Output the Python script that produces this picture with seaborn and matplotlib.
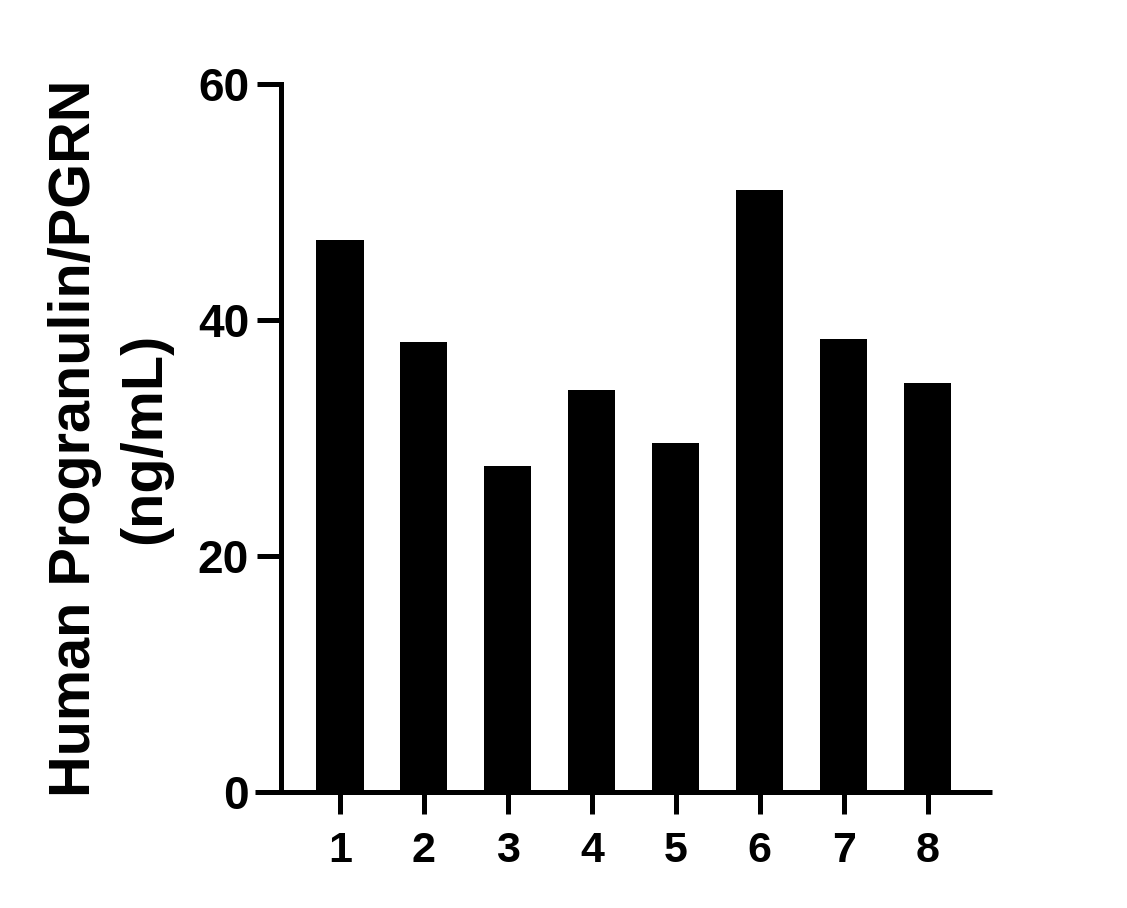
import numpy as np
import pandas as pd
import matplotlib
matplotlib.use("Agg")
import matplotlib.pyplot as plt
import seaborn as sns

# значения со скриншота
samples = ["1", "2", "3", "4", "5", "6", "7", "8"]
pgrn = [46.8, 38.1, 27.6, 34.1, 29.6, 51.0, 38.4, 34.7]
y_ticks = [0, 20, 40, 60]
y_label = "Human Progranulin/PGRN\n(ng/mL)"

sns.set_style("white")
plt.rcParams["font.family"] = ["Liberation Sans", "DejaVu Sans"]
plt.rcParams["font.weight"] = "bold"
plt.rcParams["text.color"] = "black"
plt.rcParams["axes.labelcolor"] = "black"
plt.rcParams["xtick.color"] = "black"
plt.rcParams["ytick.color"] = "black"

df = pd.DataFrame({"sample": samples, "value": pgrn})

fig = plt.figure(figsize=(11.27, 9.08), dpi=100)
ax = fig.add_axes([0.2263, 0.1278, 0.6539, 0.7797])

sns.barplot(data=df, x="sample", y="value", color="black", width=0.56,
            saturation=1, edgecolor="black", linewidth=0, ax=ax)

lw = 3.6
ax.set_ylim(0, 60)
ax.set_xlim(-1.012, 7.766)
ax.set_yticks(y_ticks)
ax.spines["top"].set_visible(False)
ax.spines["right"].set_visible(False)
for s in ["left", "bottom"]:
    ax.spines[s].set_linewidth(lw)
    ax.spines[s].set_color("black")
ax.spines["left"].set_position(("axes", 0.0353))
ax.spines["left"].set_capstyle("projecting")
ax.spines["bottom"].set_capstyle("butt")

ax.tick_params(axis="y", direction="out", length=17, width=lw, pad=6,
               labelsize=33, left=True, color="black", labelcolor="black")
ax.tick_params(axis="x", direction="out", length=16, width=lw, pad=12,
               labelsize=31, bottom=True, color="black", labelcolor="black")
for lab in ax.get_xticklabels() + ax.get_yticklabels():
    lab.set_fontweight("bold")

ax.set_xlabel("")
ax.set_ylabel(y_label, fontsize=41.5, fontweight="bold", linespacing=1.38,
              color="black")
ax.yaxis.set_label_coords(-0.113, 0.5)

fig.savefig("out.png", dpi=100, facecolor="white")
